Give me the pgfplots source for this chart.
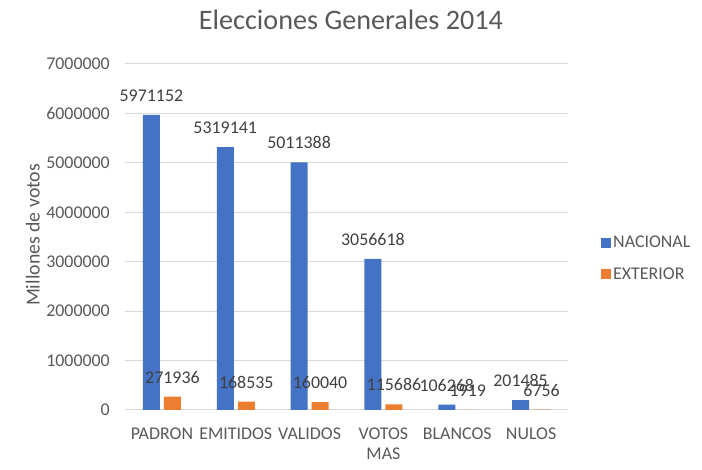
\documentclass[border=0pt]{standalone}
\usepackage{fontspec}
\setmainfont{Carlito}
\usepackage{pgfplots}
\usepackage{pgfplotstable}
\pgfplotsset{compat=1.18}
\definecolor{nac}{HTML}{4472C4}
\definecolor{ext}{HTML}{ED7D31}
\definecolor{txt}{HTML}{595959}
\definecolor{lbl}{HTML}{404040}
\definecolor{grd}{HTML}{D9D9D9}
\pgfplotstableread{
x nac ext
0 5971152 271936
1 5319141 168535
2 5011388 160040
3 3056618 115686
4 106268 1919
5 201485 6756
}\datatable
\newcommand{\fnt}{\fontsize{17.9}{20}\selectfont}
\begin{document}
\begin{tikzpicture}
\useasboundingbox (0,0) rectangle (702pt,470pt);
\begin{axis}[
  at={(125pt,60pt)}, anchor=south west,
  scale only axis, width=443pt, height=346pt,
  ybar=4pt, bar width=17pt,
  legend image code/.code={\fill[#1] (0pt,-5pt) rectangle (10pt,5pt);},
  xmin=-0.5, xmax=5.5, ymin=0, ymax=7000000,
  scaled y ticks=false,
  ytick={0,1000000,2000000,3000000,4000000,5000000,6000000,7000000},
  yticklabels={0,1000000,2000000,3000000,4000000,5000000,6000000,7000000},
  xtick={0,1,2,3,4,5},
  xticklabels={PADRON,EMITIDOS,VALIDOS,VOTOS\\MAS,BLANCOS,NULOS},
  xticklabel style={font=\fnt, text=txt, align=center, anchor=north, inner sep=0pt, yshift=-18pt},
  yticklabel style={font=\fnt, text=txt, anchor=east, inner sep=0pt, xshift=-15pt},
  major tick length=0pt,
  axis line style={draw=none},
  ymajorgrids, grid style={grd, line width=1pt},
  ylabel={Millones de votos},
  ylabel style={font=\fontsize{19.8}{22}\selectfont, text=txt, at={(axis description cs:-0.208,0.506)}, anchor=center},
  title={Elecciones Generales 2014},
  title style={font=\fontsize{28.2}{30}\selectfont, text=txt, at={(axis description cs:0.51,1)}, anchor=center, yshift=38pt},
  legend style={at={(axis description cs:1.0745,0.438)}, anchor=west, draw=none, fill=none,
    font=\fnt, text=txt, row sep=14pt, inner sep=0pt,
    nodes={inner sep=2pt}},
  legend cell align=left,
  nodes near coords, point meta=explicit symbolic,
  nodes near coords style={font=\fnt, text=lbl, anchor=south, inner sep=0pt, yshift=13pt},
  clip=false,
]
\addplot[fill=nac, draw=none] table[x=x, y=nac, meta=nac]{\datatable};
\addplot[fill=ext, draw=none] table[x=x, y=ext, meta=ext]{\datatable};
\legend{NACIONAL, EXTERIOR}
\end{axis}
\end{tikzpicture}
\end{document}
